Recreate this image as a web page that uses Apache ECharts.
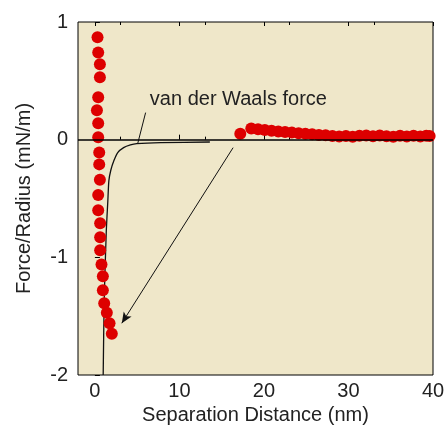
<!DOCTYPE html>
<html>
<head>
<meta charset="utf-8">
<script src="https://cdn.jsdelivr.net/npm/echarts@6/dist/echarts.min.js"></script>
<style>
  html, body { margin: 0; padding: 0; background: #fff; }
  #chart { width: 444px; height: 425px; }
</style>
</head>
<body>
<div id="chart"></div>
<script>
// measured points: near contact, then the far branch
var distNm = [0.31, 0.39, 0.59, 0.59, 0.39, 0.24, 0.39, 0.39, 0.51, 0.51, 0.59, 0.39,
	0.39, 0.62, 0.62, 0.62, 0.78, 0.94, 0.94, 1.1, 1.41, 1.73, 2.0,
	17.2, 18.5, 19.3, 20.1, 20.9, 21.7, 22.5, 23.3, 24.1, 24.9, 25.7, 26.5, 27.3, 28.1,
	28.9, 29.7, 30.5, 31.3, 32.1, 32.9, 33.7, 34.5, 35.3, 36.1, 36.9, 37.7, 38.5, 39.2, 39.6];
var forceR = [0.87, 0.74, 0.64, 0.53, 0.36, 0.25, 0.14, 0.02, -0.11, -0.21, -0.34, -0.47,
	-0.60, -0.71, -0.83, -0.94, -1.06, -1.16, -1.28, -1.39, -1.47, -1.56, -1.65,
	0.05, 0.095, 0.088, 0.082, 0.075, 0.07, 0.066, 0.06, 0.055, 0.05, 0.046, 0.04, 0.037, 0.032,
	0.026, 0.032, 0.025, 0.033, 0.036, 0.028, 0.036, 0.03, 0.024, 0.033, 0.027, 0.034, 0.026, 0.033, 0.032];

// van der Waals curve
var vdwX = [0.98, 1.1, 1.35, 1.53, 1.65, 1.88, 2.24, 2.7, 3.4, 4.2, 4.94, 7.8, 13.6];
var vdwY = [-2.0, -1.36, -0.77, -0.52, -0.35, -0.26, -0.18, -0.11, -0.068, -0.045, -0.034, -0.025, -0.02];

var xTicks = [0, 10, 20, 30, 40];
var yTicks = [-2, -1, 0, 1];

var pts = [];
for (var i = 0; i < distNm.length; i++) {
	pts.push([distNm[i], forceR[i]]);
}
var curve = [];
for (var j = 0; j < vdwX.length; j++) {
	curve.push([vdwX[j], vdwY[j]]);
}

var font = 'Liberation Sans, Arial, sans-serif';
var chart = echarts.init(document.getElementById('chart'));
var option = {
	animation : false,
	grid : {
		left : 78,
		right : 11,
		top : 22,
		bottom : 50,
		outerBoundsMode : 'none',
		show : true,
		backgroundColor : '#efe7c9',
		borderColor : '#000',
		borderWidth : 1
	},
	xAxis : [
		{
			type : 'value',
			min : -2,
			max : 40,
			interval : 10,
			name : 'Separation Distance (nm)',
			nameLocation : 'middle',
			nameGap : 30,
			nameTextStyle : { fontFamily : font, fontSize : 20, color : '#222' },
			axisLine : { show : false },
			axisTick : { show : true, inside : true, length : 5, lineStyle : { color : '#000' },
				customValues : xTicks },
			minorTick : { show : true, splitNumber : 2, length : 3, lineStyle : { color : '#000' } },
			axisLabel : { fontFamily : font, fontSize : 20, color : '#222', margin : 6,
				customValues : xTicks },
			splitLine : { show : false }
		},
		{
			type : 'value',
			position : 'top',
			min : -2,
			max : 40,
			interval : 10,
			axisLine : { show : false },
			axisTick : { show : true, inside : true, length : 4, lineStyle : { color : '#000' },
				customValues : xTicks },
			minorTick : { show : true, splitNumber : 2, length : 3, lineStyle : { color : '#000' } },
			axisLabel : { show : false },
			splitLine : { show : false }
		}
	],
	yAxis : [
		{
			type : 'value',
			min : -2,
			max : 1,
			interval : 1,
			name : 'Force/Radius (mN/m)',
			nameLocation : 'middle',
			nameGap : 44,
			nameTextStyle : { fontFamily : font, fontSize : 20, color : '#222' },
			axisLine : { show : false },
			axisTick : { show : true, inside : true, length : 5, lineStyle : { color : '#000' } },
			axisLabel : { fontFamily : font, fontSize : 20, color : '#222', margin : 10,
				customValues : yTicks },
			splitLine : { show : false }
		}
	],
	series : [
		{
			name : 'zero',
			type : 'line',
			data : [],
			silent : true,
			markLine : {
				silent : true,
				symbol : ['none', 'none'],
				label : { show : false },
				lineStyle : { color : '#000', width : 1.5, type : 'solid' },
				data : [ { yAxis : 0 } ]
			}
		},
		{
			name : 'vdW',
			type : 'line',
			data : curve,
			smooth : 0.2,
			showSymbol : false,
			lineStyle : { color : '#111', width : 1.3 },
			z : 3
		},
		{
			name : 'measured',
			type : 'scatter',
			data : pts,
			symbolSize : 12,
			itemStyle : { color : '#dd0000', opacity : 1 },
			z : 4
		},
		{
			name : 'note',
			type : 'line',
			data : [],
			silent : true,
			markLine : {
				silent : true,
				label : { show : false },
				lineStyle : { color : '#111', width : 1, type : 'solid' },
				data : [
					[ { coord : [6.0, 0.23], symbol : 'none' }, { coord : [5.06, -0.034], symbol : 'none' } ],
					[ { coord : [16.35, -0.068], symbol : 'none' }, { coord : [3.18, -1.56], symbol : 'arrow', symbolSize : [7, 11] } ]
				]
			},
			markPoint : {
				silent : true,
				symbol : 'circle',
				symbolSize : 0,
				label : {
					show : true,
					position : 'right',
					distance : 0,
					formatter : 'van der Waals force',
					fontFamily : font,
					fontSize : 20,
					color : '#222'
				},
				data : [ { coord : [6.5, 0.34] } ]
			}
		}
	]
};
chart.setOption(option);
</script>
</body>
</html>
